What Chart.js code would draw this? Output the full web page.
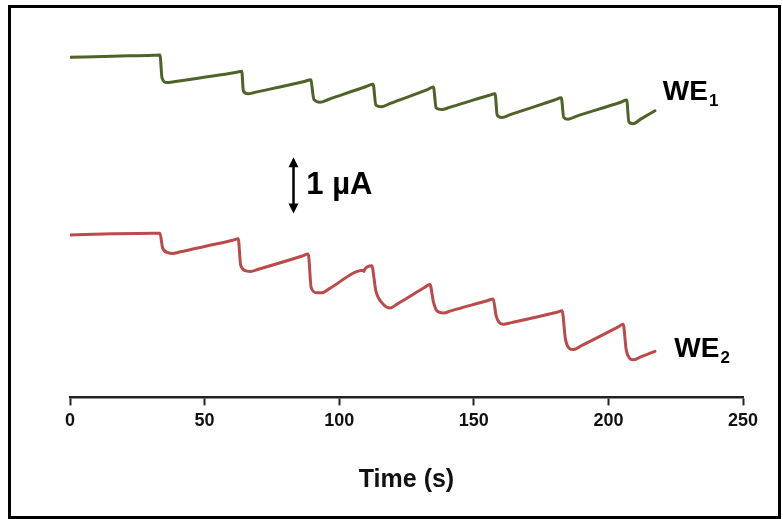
<!DOCTYPE html>
<html>
<head>
<meta charset="utf-8">
<script src="https://cdn.jsdelivr.net/npm/chart.js@4.4.0/dist/chart.umd.min.js"></script>
<style>
  html, body { margin: 0; padding: 0; background: #fff; }
</style>
</head>
<body>
<canvas id="ampChart" width="783" height="519"></canvas>
<script>
// time axis ticks (s)
var timeTicks = [0, 50, 100, 150, 200, 250];

// WE1 amperometric trace (time in s, current in uA, offset)
var we1Time = [0, 16, 31, 33.4,
  34.2, 35.9, 39, 61.5, 63.8,
  64.4, 66.1, 69, 87, 89.4,
  90.6, 92.9, 96, 110, 112.6,
  113.6, 115.8, 119, 132.5, 135.0,
  136.0, 138.1, 141, 155.5, 157.9,
  158.7, 160.4, 163.5, 180, 182.5,
  183.4, 185.1, 188, 204.5, 206.8,
  207.6, 209.2, 212, 217.3];
var we1Current = [6.05, 6.07, 6.085, 6.09,
  5.68, 5.60, 5.62, 5.78, 5.80,
  5.45, 5.40, 5.43, 5.62, 5.65,
  5.30, 5.25, 5.30, 5.53, 5.57,
  5.20, 5.17, 5.23, 5.47, 5.52,
  5.15, 5.12, 5.16, 5.37, 5.40,
  5.02, 4.98, 5.03, 5.29, 5.33,
  4.98, 4.95, 5.00, 5.25, 5.29,
  4.90, 4.87, 4.95, 5.10];

// WE2 amperometric trace
var we2Time = [0, 16, 31, 33.4,
  34.4, 36.2, 38.0, 41, 60, 62.5,
  63.4, 65.5, 67.0, 70, 86, 88.5,
  89.6, 91.8, 93.5, 96.5, 109.0, 109.2, 109.4, 112.1,
  113.6, 116.3, 118.9, 121.5, 131.5, 133.7,
  135.0, 136.3, 138.7, 141.5, 155, 157.2,
  158.3, 159.5, 161.0, 164, 180.5, 182.8,
  184.0, 185.3, 187.0, 190, 203.5, 205.5,
  206.6, 207.8, 209.2, 212, 217.3];
var we2Current = [2.89, 2.91, 2.92, 2.92,
  2.66, 2.58, 2.56, 2.59, 2.79, 2.82,
  2.35, 2.25, 2.24, 2.28, 2.51, 2.55,
  1.95, 1.86, 1.86, 1.94, 2.26, 2.24, 2.27, 2.34,
  1.90, 1.66, 1.59, 1.66, 1.95, 2.01,
  1.70, 1.54, 1.50, 1.54, 1.72, 1.75,
  1.45, 1.33, 1.30, 1.33, 1.51, 1.54,
  1.05, 0.88, 0.85, 0.92, 1.25, 1.30,
  0.85, 0.70, 0.67, 0.72, 0.82];

function toPoints(xs, ys) {
  return xs.map(function (x, i) { return { x: x, y: ys[i] }; });
}

var FONT = '"Liberation Sans", Arial, sans-serif';

// labels, 1 uA scale bar and outer frame
var overlay = {
  id: 'overlay',
  afterDraw: function (chart) {
    var ctx = chart.ctx;
    var xs = chart.scales.x, ys = chart.scales.y;
    ctx.save();
    ctx.fillStyle = '#000';
    ctx.strokeStyle = '#000';

    // scale bar: 1 uA
    var bx = Math.round(xs.getPixelForValue(82.8)) + 0.5;
    var bTop = ys.getPixelForValue(4.27), bBot = ys.getPixelForValue(3.27);
    ctx.lineWidth = 2.5;
    ctx.beginPath();
    ctx.moveTo(bx, bTop + 6);
    ctx.lineTo(bx, bBot - 6);
    ctx.stroke();
    ctx.beginPath();
    ctx.moveTo(bx, bTop);
    ctx.lineTo(bx - 5, bTop + 10);
    ctx.lineTo(bx + 5, bTop + 10);
    ctx.closePath();
    ctx.moveTo(bx, bBot);
    ctx.lineTo(bx - 5, bBot - 10);
    ctx.lineTo(bx + 5, bBot - 10);
    ctx.closePath();
    ctx.fill();

    ctx.textBaseline = 'middle';
    ctx.font = 'bold 31px ' + FONT;
    ctx.fillText('1 \u00b5A', xs.getPixelForValue(87.8), ys.getPixelForValue(3.77));

    // trace labels with subscripts
    function weLabel(xv, yv, sub) {
      var px = xs.getPixelForValue(xv), py = ys.getPixelForValue(yv);
      ctx.textBaseline = 'alphabetic';
      ctx.font = 'bold 28px ' + FONT;
      ctx.fillText('WE', px, py);
      var w = ctx.measureText('WE').width;
      ctx.font = 'bold 17px ' + FONT;
      ctx.fillText(sub, px + w + 1, py + 6);
    }
    weLabel(220.2, 5.286, '1');
    weLabel(224.5, 0.714, '2');

    // frame
    ctx.lineWidth = 3;
    ctx.strokeRect(9.5, 6.5, 770, 511);
    ctx.restore();
  }
};

var ctx = document.getElementById('ampChart').getContext('2d');
var ampChart = new Chart(ctx, {
  type: 'line',
  data: {
    datasets: [{
      label: 'WE1',
      data: toPoints(we1Time, we1Current),
      borderColor: '#4f6228',
      borderWidth: 3,
      borderJoinStyle: 'round',
      borderCapStyle: 'round',
      pointRadius: 0,
      cubicInterpolationMode: 'monotone',
      fill: false
    }, {
      label: 'WE2',
      data: toPoints(we2Time, we2Current),
      borderColor: '#bb4a4a',
      borderWidth: 3,
      borderJoinStyle: 'round',
      borderCapStyle: 'round',
      pointRadius: 0,
      cubicInterpolationMode: 'monotone',
      fill: false
    }]
  },
  options: {
    responsive: false,
    animation: false,
    layout: {
      padding: { left: 70, right: 40, top: 32, bottom: 24 }
    },
    plugins: {
      legend: { display: false },
      tooltip: { enabled: false }
    },
    scales: {
      x: {
        type: 'linear',
        min: 0,
        max: 250,
        afterBuildTicks: function (axis) {
          axis.ticks = timeTicks.map(function (v) { return { value: v }; });
        },
        grid: {
          drawOnChartArea: false,
          drawTicks: true,
          tickLength: 8,
          tickWidth: 2,
          tickColor: '#222'
        },
        border: { display: true, color: '#222', width: 2.5 },
        ticks: {
          color: '#111',
          padding: 5,
          maxRotation: 0,
          font: { family: FONT, size: 18, weight: 'bold' }
        },
        title: {
          display: true,
          text: 'Time (s)',
          color: '#111',
          padding: { top: 28, bottom: 0 },
          font: { family: FONT, size: 25, weight: 'bold' }
        }
      },
      y: {
        display: false,
        min: 0,
        max: 6.5
      }
    }
  },
  plugins: [overlay]
});
</script>
</body>
</html>
